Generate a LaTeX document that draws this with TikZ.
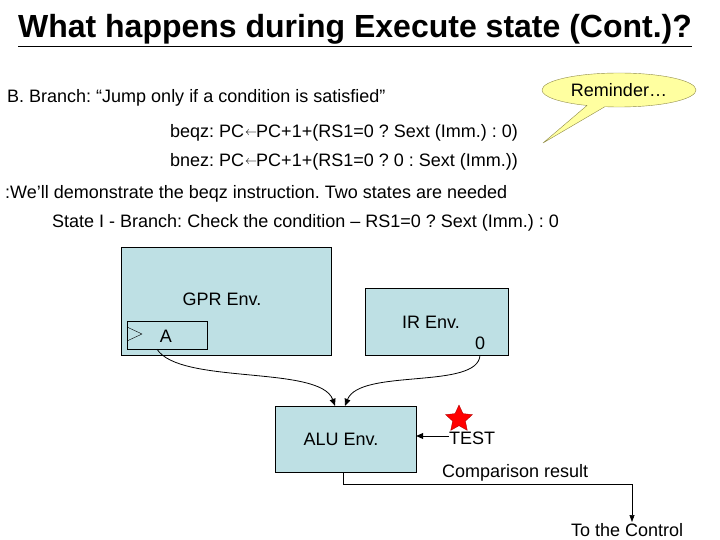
\documentclass[tikz,border=0pt]{standalone}
\usepackage{fontspec}
\setmainfont{Liberation Sans}
\frenchspacing
\usetikzlibrary{arrows.meta,shapes.geometric,shapes.callouts}
\definecolor{envblue}{RGB}{190,224,228}
\definecolor{notey}{RGB}{255,255,160}
\newcommand{\getsarrow}{\kern1pt\raisebox{2.5pt}{\fontsize{12}{12}\selectfont$\leftarrow$}\kern-1pt}
\begin{document}
\begin{tikzpicture}[x=1pt,y=-1pt,font=\fontsize{18}{21}\selectfont,
  env/.style={draw, thin, fill=envblue, inner sep=0pt},
  txt/.style={anchor=base west, inner sep=0pt},
  arr/.style={-{Triangle[width=6pt,length=7pt]}, thick},
  wire/.style={-{Triangle[width=5pt,length=7pt]}, semithick}
]
  \useasboundingbox (0,0) rectangle (720,540);
  % Titel und Text
  \node[inner sep=0pt, anchor=base, font=\fontsize{32}{35}\selectfont\bfseries]
    (title) at (355,38) {\underline{What happens during Execute state (Cont.)?}};
  \node[ellipse callout, draw=black!50!yellow, fill=notey, minimum width=154pt,
    minimum height=34pt, callout pointer arc=14, callout absolute pointer={(543,143)}]
    (remind) at (619,90) {Reminder\dots};
  \node[txt] (branch) at (7,103) {B. Branch: “Jump only if a condition is satisfied”};
  \node[txt] (beqz) at (170,138) {beqz: PC\getsarrow PC+1+(RS1=0 ? Sext (Imm.) : 0)};
  \node[txt] (bnez) at (170,167) {bnez: PC\getsarrow PC+1+(RS1=0 ? 0 : Sext (Imm.))};
  \node[txt] (demo) at (5,199) {:We’ll demonstrate the beqz instruction. Two states are needed};
  \node[txt] (state) at (52,228) {State I - Branch: Check the condition – RS1=0 ? Sext (Imm.) : 0};
  % Umgebungen
  \node[env, minimum width=210pt, minimum height=108pt] (gpr) at (226,301) {};
  \node at (222,299) {GPR Env.};
  \node[draw, thin, minimum width=80pt, minimum height=28pt, inner sep=0pt] (regA) at (167,335) {};
  \draw[thin] (127,327) -- (142,334) -- (127,341);
  \node at (166,336) {A};
  \node[env, minimum width=143pt, minimum height=67pt] (ir) at (436.5,321.5) {};
  \node at (431,322) {IR Env.};
  \node (zero) at (480,343) {0};
  \node[env, minimum width=141pt, minimum height=66pt] (alu) at (345.5,439) {};
  \node at (341,439) {ALU Env.};
  \node[star, star points=5, star point ratio=2.1, fill=red, draw=red!70!black,
    minimum size=28pt, inner sep=0pt] (star) at (459,419) {};
  \node[txt] (test) at (449,444) {TEST};
  \node[txt] (cmp) at (442,477) {Comparison result};
  \node[txt] (ctrl) at (571,536) {To the Control};
  % Verbindungen
  \draw[arr] (regA.south -| 157,0) .. controls (180,385) and (320,365) .. (alu.north -| 335,0);
  \draw[arr] (ir.south -| zero) .. controls (478,390) and (360,368) .. (alu.north -| 345,0);
  \draw[arr] (test.west |- 0,436) -- (alu.east |- 0,436);
  \draw[wire] (alu.south -| 343,0) |- (632,484) -- (632,522);
\end{tikzpicture}
\end{document}
